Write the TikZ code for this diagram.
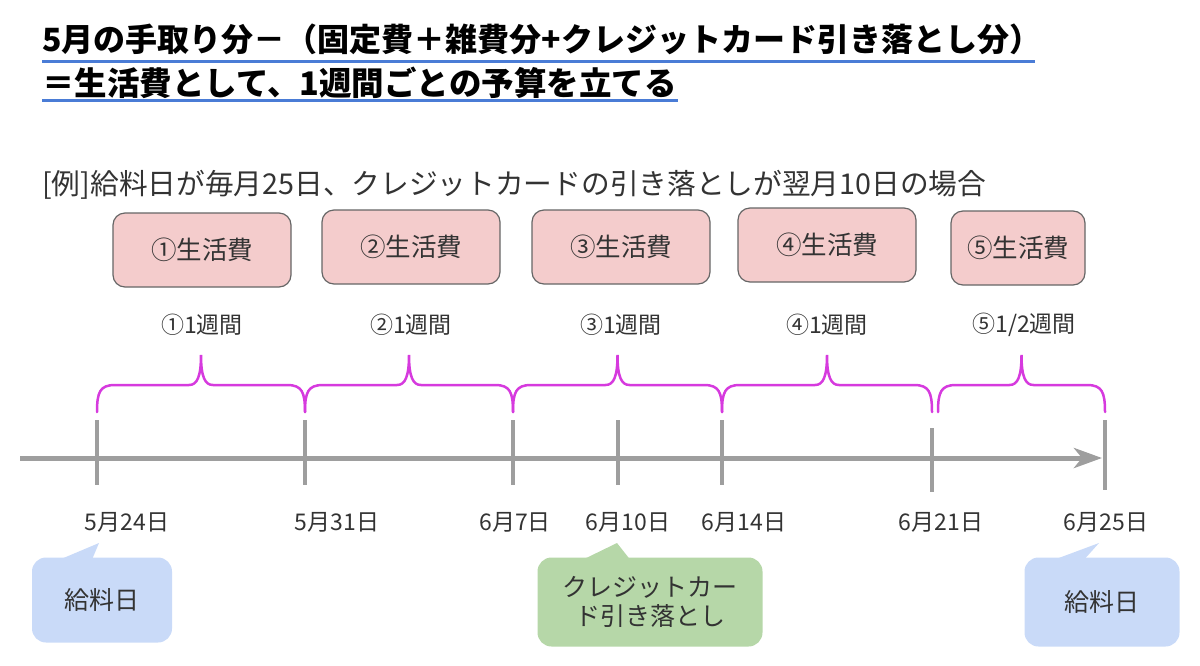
\documentclass[tikz,border=0pt]{standalone}
\usepackage{fontspec}
\setmainfont{Noto Sans CJK JP}
\usetikzlibrary{positioning,arrows.meta,calc}
\definecolor{linegray}{RGB}{158,158,158}
\definecolor{bracemag}{RGB}{214,58,222}
\definecolor{costpink}{RGB}{244,204,204}
\definecolor{paybl}{RGB}{201,218,248}
\definecolor{cardgreen}{RGB}{182,215,168}
\definecolor{titleblue}{RGB}{74,124,214}
\definecolor{textdark}{RGB}{51,51,51}

\begin{document}
\begin{tikzpicture}[x=1pt, y=-1pt,
    costbox/.style  ={rectangle, rounded corners=12pt, draw=black!60, line width=1.2pt, fill=costpink,
                      minimum width=178pt, minimum height=74pt, font=\fontsize{25.5}{30}\selectfont, text=textdark},
    weeklbl/.style  ={font=\fontsize{23}{27}\selectfont, text=textdark},
    datelbl/.style  ={font=\fontsize{23}{27}\selectfont, text=textdark},
    callbox/.style  ={rectangle, rounded corners=14pt, minimum height=86pt, align=center,
                      font=\fontsize{25}{29}\selectfont, text=textdark},
    tickline/.style ={draw=linegray, line width=4pt},
    weekbrace/.style={draw=bracemag, line width=2.5pt, line cap=round,
                      to path={let \p1=(\tikztostart), \p2=(\tikztotarget), \p3=($(\p1)!.5!(\p2)$) in
                        .. controls +(0,-20) and +(-15,0) .. ($(\p1)+(18,-27)$)
                        -- ($(\p3)+(-12,-27)$)
                        .. controls +(8,0) and +(0,22) .. ($(\p3)+(0,-57)$)
                        .. controls +(0,22) and +(-8,0) .. ($(\p3)+(12,-27)$)
                        -- ($(\p2)+(-18,-27)$)
                        .. controls +(15,0) and +(0,-20) .. (\p2)}},
    arr/.style      ={-{Stealth[length=28pt, width=20pt, inset=8pt]}, line width=5pt, linegray}]
    \useasboundingbox (0,0) rectangle (1200,665);

    % title
    \node[anchor=west, inner sep=0, font=\fontsize{32}{38}\selectfont\bfseries] (title1) at (42,39)
        {5月の手取り分－（固定費＋雑費分+クレジットカード引き落とし分）};
    \draw[titleblue, line width=3pt] (42,61) -- (1035,61);
    \node[anchor=west, inner sep=0, font=\fontsize{32.5}{38}\selectfont\bfseries] (title2) at (42,83)
        {＝生活費として、1週間ごとの予算を立てる};
    \draw[titleblue, line width=3pt] (42,100) -- (678,100);

    \node[anchor=west, inner sep=0, font=\fontsize{28.7}{34}\selectfont, text=textdark] (example) at (42,185)
        {[例]給料日が毎月25日、クレジットカードの引き落としが翌月10日の場合};

    % budget boxes
    \node[costbox] (c1) at (202,250) {①生活費};
    \node[costbox] (c2) at (411,247) {②生活費};
    \node[costbox] (c3) at (621,247) {③生活費};
    \node[costbox] (c4) at (827,245) {④生活費};
    \node[costbox, minimum width=134pt] (c5) at (1018,248) {⑤生活費};

    \node[weeklbl] (w1) at (202,325) {①1週間};
    \node[weeklbl] (w2) at (411,325) {②1週間};
    \node[weeklbl] (w3) at (621,325) {③1週間};
    \node[weeklbl] (w4) at (827,325) {④1週間};
    \node[weeklbl] (w5) at (1024,325) {⑤1/2週間};

    % braces
    \coordinate (b1) at (97,412);
    \coordinate (b2) at (305,412);
    \coordinate (b3) at (513,412);
    \coordinate (b4) at (722,412);
    \coordinate (b5) at (932,412);
    \coordinate (b6) at (938,412);
    \coordinate (b7) at (1105,412);
    \draw[weekbrace] (b1) to (b2);
    \draw[weekbrace] (b2) to (b3);
    \draw[weekbrace] (b3) to (b4);
    \draw[weekbrace] (b4) to (b5);
    \draw[weekbrace] (b6) to (b7);

    % timeline
    \coordinate (tl0) at (20,458);
    \coordinate (tl1) at (1102,458);
    \draw[arr] (tl0) -- (tl1);
    \draw[tickline] (97,420) -- (97,485);
    \draw[tickline] (305,420) -- (305,485);
    \draw[tickline] (513,420) -- (513,485);
    \draw[tickline] (618,420) -- (618,485);
    \draw[tickline] (722,420) -- (722,485);
    \draw[tickline] (932,428) -- (932,492);
    \draw[tickline] (1105,420) -- (1105,490);

    \node[datelbl] (d1) at (127,522) {5月24日};
    \node[datelbl] (d2) at (337,522) {5月31日};
    \node[datelbl] (d3) at (515,522) {6月7日};
    \node[datelbl] (d4) at (628,522) {6月10日};
    \node[datelbl] (d5) at (744,522) {6月14日};
    \node[datelbl] (d6) at (941,522) {6月21日};
    \node[datelbl] (d7) at (1106,522) {6月25日};

    % callouts
    \coordinate (p1) at (99,543);
    \coordinate (p2) at (617,543);
    \coordinate (p3) at (1099,543);
    \fill[paybl] (54,562) -- (p1) -- (91,562) -- cycle;
    \fill[cardgreen] (578,562) -- (p2) -- (632,562) -- cycle;
    \fill[paybl] (1048,562) -- (p3) -- (1082,562) -- cycle;
    \node[callbox, fill=paybl, minimum width=140pt, minimum height=85pt] (pay1) at (102,600) {給料日};
    \node[callbox, fill=cardgreen, minimum width=225pt, minimum height=89pt] (card) at (650,602)
        {クレジットカー\\ド引き落とし};
    \node[callbox, fill=paybl, minimum width=155pt, minimum height=89pt] (pay2) at (1102,602) {給料日};
\end{tikzpicture}
\end{document}
